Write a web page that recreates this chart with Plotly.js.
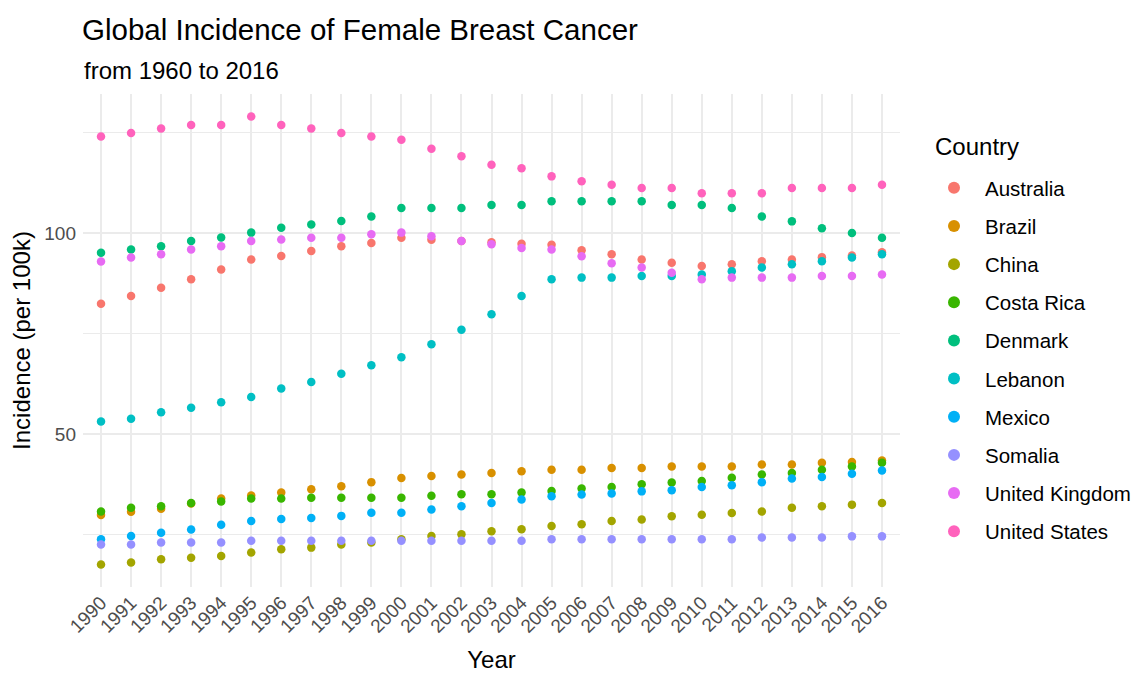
<!DOCTYPE html>
<html>
<head>
<meta charset="utf-8">
<script src="https://cdn.plot.ly/plotly-3.0.1.min.js"></script>
<style>html,body{margin:0;padding:0;background:#fff;}#chart{width:1135px;height:673px;}</style>
</head>
<body>
<div id="chart"></div>
<script>
const years = [1990,1991,1992,1993,1994,1995,1996,1997,1998,1999,2000,2001,2002,2003,2004,2005,2006,2007,2008,2009,2010,2011,2012,2013,2014,2015,2016];
const countries = ["Australia","Brazil","China","Costa Rica","Denmark","Lebanon","Mexico","Somalia","United Kingdom","United States"];
const colors = ["#F8766D","#D89000","#A3A500","#39B600","#00BF7D","#00BFC4","#00B0F6","#9590FF","#E76BF3","#FF62BC"];

const australia = [82.5,84.4,86.5,88.6,91.0,93.5,94.4,95.6,96.8,97.6,98.9,98.4,98.1,97.8,97.4,97.2,95.8,94.8,93.5,92.7,91.9,92.3,93.1,93.5,94.1,94.5,95.3];
const brazil = [29.9,30.7,31.5,32.8,34.0,34.8,35.5,36.3,37.1,38.1,39.1,39.6,40.0,40.4,40.8,41.2,41.2,41.6,41.6,42.0,42.0,42.0,42.5,42.5,42.9,43.1,43.5];
const china = [17.6,18.1,18.9,19.3,19.7,20.6,21.4,21.8,22.6,23.1,23.9,24.7,25.1,25.9,26.4,27.2,27.6,28.4,28.8,29.6,30.0,30.4,30.8,31.7,32.1,32.5,32.9];
const costaRica = [30.8,31.7,32.1,32.9,33.3,34.0,34.0,34.2,34.2,34.2,34.2,34.7,35.1,35.1,35.5,35.9,36.5,36.9,37.6,38.0,38.4,39.2,40.0,40.4,41.2,42.0,42.9];
const denmark = [95.2,96.0,96.8,98.1,99.0,100.2,101.4,102.2,103.1,104.2,106.3,106.3,106.3,107.1,107.1,108.0,108.0,108.0,108.0,107.1,107.1,106.3,104.2,103.0,101.3,100.1,98.9];
const lebanon = [53.2,53.9,55.5,56.6,58.0,59.3,61.4,63.0,65.1,67.2,69.2,72.4,76.0,79.9,84.4,88.6,89.0,89.0,89.4,89.4,89.8,90.6,91.5,92.3,93.1,94.0,94.8];
const mexico = [23.9,24.7,25.5,26.3,27.5,28.4,28.9,29.2,29.7,30.5,30.5,31.3,32.1,32.9,33.8,34.6,35.0,35.3,35.8,36.1,36.9,37.3,38.1,39.0,39.4,40.2,41.0];
const somalia = [22.6,22.6,23.1,23.1,23.1,23.5,23.5,23.5,23.5,23.5,23.5,23.5,23.5,23.5,23.5,23.9,23.9,23.9,23.9,23.9,23.9,23.9,24.3,24.3,24.3,24.6,24.6];
const unitedKingdom = [93.0,94.0,94.8,96.0,96.8,98.1,98.5,98.9,98.9,99.8,100.2,99.3,98.1,97.3,96.4,96.0,94.3,92.6,91.5,90.2,88.6,89.0,89.0,89.0,89.4,89.4,89.8];
const unitedStates = [124.1,125.0,126.1,127.0,127.0,129.1,127.0,126.1,125.0,124.1,123.3,121.1,119.2,117.1,116.2,114.2,113.0,112.1,111.3,111.3,110.0,110.0,110.0,111.3,111.3,111.3,112.1];

const series = [australia,brazil,china,costaRica,denmark,lebanon,mexico,somalia,unitedKingdom,unitedStates];
const yTickVals = [50,100];
const yMinorVals = [25,75,125];

const FONT = "Liberation Sans, Arial, sans-serif";
const PLOT_TOP = 94, PLOT_H = 493;
const py = p => 1 - (p - PLOT_TOP) / PLOT_H;   // page pixel row -> paper y
const px = p => (p - 83) / 817;                 // page pixel column -> paper x

const traces = countries.map((c,i)=>({
  type:'scatter', mode:'markers', name:c, x:years, y:series[i],
  legendgroup:c,
  marker:{color:colors[i], size:8.5},
  hoverinfo:'x+y+name'
}));

const layout = {
  width:1135, height:673,
  paper_bgcolor:'#ffffff', plot_bgcolor:'#ffffff',
  font:{family:FONT, color:'#000000'},
  margin:{l:83, r:235, t:PLOT_TOP, b:673-PLOT_TOP-PLOT_H, autoexpand:false},
  showlegend:true,
  title:{text:'Global Incidence of Female Breast Cancer', font:{family:FONT, size:29.5, color:'#000000'},
         xref:'container', yref:'container', x:82/1135, xanchor:'left', y:1-30/673, yanchor:'middle'},
  annotations:[
    {text:'from 1960 to 2016', xref:'paper', yref:'paper', x:px(82), xanchor:'left',
     y:py(70), yanchor:'middle', showarrow:false, font:{family:FONT, size:24, color:'#000000'}},
    {text:'Country', xref:'paper', yref:'paper', x:px(933), xanchor:'left',
     y:py(146), yanchor:'middle', showarrow:false, font:{family:FONT, size:24, color:'#000000'}}
  ],
  xaxis:{
    range:[1989.4, 2016.6], tickmode:'array', tickvals:years, ticktext:years.map(String),
    tickangle:-45, tickfont:{family:FONT, size:19, color:'#4D4D4D'},
    showgrid:true, gridcolor:'#EBEBEB', gridwidth:2, zeroline:false, showline:false, ticks:'',
    title:{text:'Year', font:{family:FONT, size:24, color:'#000000'}, standoff:16},
    automargin:false, fixedrange:true
  },
  yaxis:{
    range:[12.0, 134.7], tickmode:'array', tickvals:yTickVals, ticktext:yTickVals.map(String),
    tickfont:{family:FONT, size:19, color:'#4D4D4D'},
    showgrid:true, gridcolor:'#EBEBEB', gridwidth:2, zeroline:false, showline:false, ticks:'',
    ticklabelstandoff:6,
    minor:{tickmode:'array', tickvals:yMinorVals, showgrid:true, gridcolor:'#EBEBEB', gridwidth:1, ticks:''},
    title:{text:'Incidence (per 100k)', font:{family:FONT, size:24, color:'#000000'}, standoff:6},
    automargin:false, fixedrange:true
  },
  legend:{
    font:{family:FONT, size:20.5, color:'#000000'},
    x:px(923), xanchor:'left', y:py(168), yanchor:'top',
    traceorder:'grouped', tracegroupgap:8.5, itemsizing:'constant', itemwidth:52,
    bgcolor:'rgba(0,0,0,0)'
  }
};

Plotly.newPlot('chart', traces, layout, {displayModeBar:false, staticPlot:true});
</script>
</body>
</html>
